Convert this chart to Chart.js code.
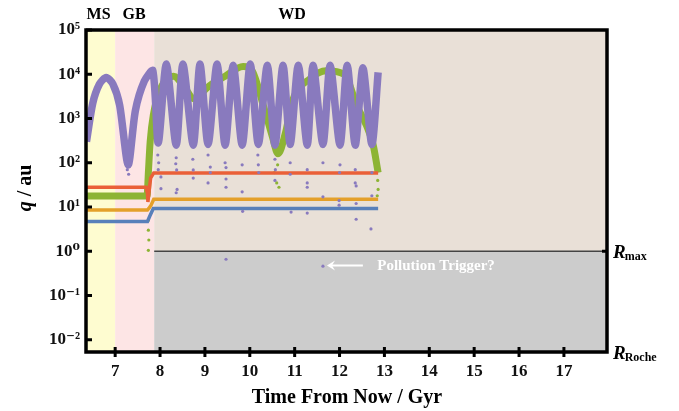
<!DOCTYPE html>
<html>
<head>
<meta charset="utf-8">
<script src="https://cdn.jsdelivr.net/npm/chart.js@4"></script>
<style>
  html, body { margin: 0; padding: 0; background: #fff; }
  #wrap { width: 679px; height: 411px; }
</style>
</head>
<body>
<div id="wrap"><canvas id="chart-1"></canvas></div>
<script>
// evolutionary phases, Gyr from now
const phaseEdges = [6.35, 7.0, 7.87, 17.96];
const phaseNames = ['MS', 'GB', 'WD'];
const phaseLabelT = [6.63, 7.42, 10.94];

const xTicks = [7, 8, 9, 10, 11, 12, 13, 14, 15, 16, 17];
const yTicks = [0.01, 0.1, 1, 10, 100, 1000, 10000, 100000];
const yTickLabels = ['10⁻²', '10⁻¹', '10⁰', '10¹', '10²', '10³', '10⁴', '10⁵'];

const rMax = 1;
const rRoche = 0.0053;

// outer body pericentre (dense oscillating band)
const purpleT = [6.36, 6.5, 6.65, 6.8, 6.95, 7.1, 7.29, 7.45, 7.65, 7.84, 7.96, 8.14, 8.36, 8.51, 8.74, 8.89,
  9.07, 9.27, 9.45, 9.63, 9.83, 10.01, 10.19, 10.39, 10.56, 10.74, 10.9, 11.08, 11.28, 11.41, 11.63, 11.79,
  12.01, 12.17, 12.35, 12.52, 12.72, 12.86];
const purpleQ = [300, 2200, 6000, 8500, 6000, 2000, 90, 1500, 7000, 12000, 280, 17000, 250, 17000, 250, 17000,
  260, 17000, 250, 16000, 250, 17000, 260, 16000, 250, 16000, 260, 16000, 250, 16000, 260, 16000,
  250, 16000, 250, 14000, 260, 11000];
// scattered low pericentre passages
const purpleDotT = [7.27, 7.30, 7.31, 7.95, 7.97, 7.96, 8.02, 8.02, 8.35, 8.37, 8.38, 8.36, 8.36, 8.74, 8.73, 8.74,
  9.07, 9.12, 9.12, 9.07, 9.45, 9.47, 9.47, 9.47, 9.47, 9.83, 9.83, 9.84, 10.18, 10.2, 10.19, 10.56, 10.57,
  10.56, 10.9, 10.92, 10.9, 11.28, 11.28, 11.28, 11.28, 11.63, 11.63, 11.99, 11.99, 12.0, 12.01, 12.35, 12.37,
  12.37, 12.37, 12.35, 12.70, 12.72, 12.72, 11.63];
const purpleDotQ = [70, 55, 90, 150, 100, 70, 48, 26, 95, 69, 25, 21, 130, 69, 120, 45,
  150, 80, 60, 35, 100, 78, 43, 28, 0.66, 90, 22, 8, 150, 60, 90, 120, 70,
  40, 100, 7.7, 55, 35, 28, 7.3, 70, 100, 17, 14, 11, 60, 90, 35, 30,
  12, 5.3, 70, 3.2, 18, 60, 0.46];

const greenT = [6.35, 7.71, 7.74, 7.78, 7.85, 8.02, 8.3, 8.55, 8.75, 9.1, 9.45, 9.85, 10.05, 10.3, 10.5, 10.63,
  10.8, 10.95, 11.35, 11.7, 12.1, 12.4, 12.6, 12.75, 12.86];
const greenQ = [17.8, 17.8, 60, 300, 1200, 5000, 9000, 5000, 2800, 5500, 9000, 15000, 12000, 2000, 400, 160,
  500, 2500, 8000, 12000, 10000, 1800, 700, 250, 60];
const greenDotT = [7.74, 7.74, 7.75, 7.74, 10.55, 10.6, 10.65, 10.62, 12.85, 12.86, 12.84, 12.83];
const greenDotQ = [5, 3, 1.8, 1.05, 60, 35, 28, 90, 40, 25, 18, 100];

const orangeT = [6.35, 7.69, 7.72, 7.73, 7.76, 7.79, 7.86, 12.86];
const orangeQ = [28, 28, 20, 13, 25, 45, 59, 59];
const yellowT = [6.35, 7.72, 7.75, 7.8, 7.86, 12.86];
const yellowQ = [8.6, 8.6, 9.3, 11, 15, 15];
const blueT = [6.35, 7.72, 7.77, 7.85, 12.86];
const blueQ = [4.7, 4.7, 6.2, 9.3, 9.3];

const triggerT = [11.72, 12.52, 12.84];
const triggerQ = 0.48;

const pts = (t, q) => t.map((v, i) => ({ x: v, y: q[i] }));

const serif = '"Liberation Serif", "DejaVu Serif", serif';

const backdrop = {
  id: 'backdrop',
  beforeDatasetsDraw(chart) {
    const { ctx, chartArea: a, scales: { x, y } } = chart;
    const yr = y.getPixelForValue(rMax);
    ctx.save();
    ctx.fillStyle = '#fefcd0';
    ctx.fillRect(x.getPixelForValue(phaseEdges[0]), a.top, x.getPixelForValue(phaseEdges[1]) - a.left, a.height);
    ctx.fillStyle = '#fde5e5';
    ctx.fillRect(x.getPixelForValue(phaseEdges[1]), a.top,
      x.getPixelForValue(phaseEdges[2]) - x.getPixelForValue(phaseEdges[1]), a.height);
    const wd = x.getPixelForValue(phaseEdges[2]);
    ctx.fillStyle = '#e9e0d7';
    ctx.fillRect(wd, a.top, a.right - wd, yr - a.top);
    ctx.fillStyle = '#cccccc';
    ctx.fillRect(wd, yr, a.right - wd, a.bottom - yr);
    ctx.strokeStyle = '#444';
    ctx.lineWidth = 1.5;
    ctx.beginPath();
    ctx.moveTo(wd, yr);
    ctx.lineTo(a.right, yr);
    ctx.stroke();

    // pollution trigger note
    const ty = y.getPixelForValue(triggerQ);
    const x0 = x.getPixelForValue(triggerT[0]);
    const x1 = x.getPixelForValue(triggerT[1]);
    ctx.strokeStyle = '#fff';
    ctx.fillStyle = '#fff';
    ctx.lineWidth = 2;
    ctx.beginPath();
    ctx.moveTo(x0 + 4, ty);
    ctx.lineTo(x1, ty);
    ctx.stroke();
    ctx.beginPath();
    ctx.moveTo(x0, ty);
    ctx.lineTo(x0 + 8, ty - 5);
    ctx.lineTo(x0 + 5, ty);
    ctx.lineTo(x0 + 8, ty + 5);
    ctx.closePath();
    ctx.fill();
    ctx.font = 'bold 15px ' + serif;
    ctx.textBaseline = 'alphabetic';
    ctx.fillText('Pollution Trigger?', x.getPixelForValue(triggerT[2]), ty + 5);
    ctx.restore();
  },
  afterDraw(chart) {
    const { ctx, chartArea: a, scales: { x, y } } = chart;
    ctx.save();
    ctx.strokeStyle = '#000';
    ctx.fillStyle = '#000';
    ctx.lineWidth = 3.5;
    ctx.strokeRect(a.left, a.top, a.width, a.height);
    ctx.lineWidth = 3;
    ctx.beginPath();
    yTicks.forEach((v) => {
      const py = y.getPixelForValue(v);
      ctx.moveTo(a.left, py);
      ctx.lineTo(a.left + 6, py);
    });
    xTicks.forEach((v) => {
      const px = x.getPixelForValue(v);
      ctx.moveTo(px, a.bottom - 5);
      ctx.lineTo(px, a.bottom + 5);
    });
    const yr = y.getPixelForValue(rMax);
    ctx.moveTo(a.right, yr);
    ctx.lineTo(a.right - 5, yr);
    ctx.stroke();

    // phase names
    ctx.font = 'bold 16px ' + serif;
    ctx.textAlign = 'center';
    ctx.textBaseline = 'alphabetic';
    phaseNames.forEach((n, i) => ctx.fillText(n, x.getPixelForValue(phaseLabelT[i]), 19));

    // R labels
    const rLabel = (sub, py) => {
      ctx.textAlign = 'left';
      ctx.font = 'italic bold 19px ' + serif;
      ctx.fillText('R', a.right + 6, py + 7);
      const w = ctx.measureText('R').width;
      ctx.font = 'bold 12px ' + serif;
      ctx.fillText(sub, a.right + 6 + w - 1, py + 9);
    };
    rLabel('max', yr);
    rLabel('Roche', y.getPixelForValue(rRoche));

    // axis titles
    ctx.textAlign = 'left';
    ctx.font = 'bold 20px ' + serif;
    const xt = 'Time From Now / Gyr';
    const xw = ctx.measureText(xt).width;
    ctx.fillText(xt, 347 - xw / 2, 403);

    ctx.translate(31, 188);
    ctx.rotate(-Math.PI / 2);
    ctx.font = 'italic bold 20px ' + serif;
    const qw = ctx.measureText('q').width;
    ctx.font = 'bold 20px ' + serif;
    const rw = ctx.measureText(' / au').width;
    ctx.font = 'italic bold 20px ' + serif;
    ctx.fillText('q', -(qw + rw) / 2, 0);
    ctx.font = 'bold 20px ' + serif;
    ctx.fillText(' / au', -(qw + rw) / 2 + qw, 0);
    ctx.restore();
  },
};

const initChart1 = () => {
  const data = {
    datasets: [
      {
        label: 'outer body',
        data: pts(purpleT, purpleQ),
        showLine: true,
        borderColor: 'rgb(137, 122, 190)',
        borderWidth: 7.5,
        borderJoinStyle: 'round',
        tension: 0.25,
        pointRadius: 0,
      },
      {
        label: 'outer body (low passages)',
        data: pts(purpleDotT, purpleDotQ),
        backgroundColor: 'rgb(137, 122, 190)',
        borderWidth: 0,
        pointRadius: 1.6,
      },
      {
        label: 'planet 60 au',
        data: pts(orangeT, orangeQ),
        showLine: true,
        borderColor: 'rgb(234, 96, 56)',
        borderWidth: 3.5,
        pointRadius: 0,
      },
      {
        label: 'planet 15 au',
        data: pts(yellowT, yellowQ),
        showLine: true,
        borderColor: 'rgb(228, 160, 42)',
        borderWidth: 3.5,
        pointRadius: 0,
      },
      {
        label: 'planet 9 au',
        data: pts(blueT, blueQ),
        showLine: true,
        borderColor: 'rgb(88, 128, 186)',
        borderWidth: 3.5,
        pointRadius: 0,
      },
      {
        label: 'planet 18 au',
        data: pts(greenT, greenQ),
        showLine: true,
        borderColor: 'rgb(141, 180, 52)',
        borderWidth: 7,
        cubicInterpolationMode: 'monotone',
        pointRadius: 0,
      },
      {
        label: 'planet 18 au (scatter)',
        data: pts(greenDotT, greenDotQ),
        backgroundColor: 'rgb(141, 180, 52)',
        borderWidth: 0,
        pointRadius: 1.6,
      },
    ],
  };

  const config = {
    type: 'scatter',
    data: data,
    options: {
      responsive: true,
      maintainAspectRatio: false,
      animation: false,
      layout: { padding: { left: 0, right: 72, top: 30, bottom: 0 } },
      plugins: {
        legend: { display: false },
        tooltip: { enabled: false },
      },
      scales: {
        x: {
          type: 'linear',
          min: phaseEdges[0],
          max: phaseEdges[3],
          grid: { display: false, drawTicks: false },
          border: { display: false },
          afterBuildTicks: (s) => { s.ticks = xTicks.map((v) => ({ value: v })); },
          afterFit: (s) => { s.height = 59; },
          ticks: {
            padding: 9,
            color: '#111',
            maxRotation: 0,
            autoSkip: false,
            font: { family: serif, size: 17, weight: 'bold' },
            callback: (v) => String(v),
          },
        },
        y: {
          type: 'logarithmic',
          min: rRoche,
          max: 100000,
          grid: { display: false, drawTicks: false },
          border: { display: false },
          afterBuildTicks: (s) => { s.ticks = yTicks.map((v) => ({ value: v })); },
          afterFit: (s) => { s.width = 86; },
          ticks: {
            padding: 6,
            color: '#111',
            autoSkip: false,
            font: { family: serif, size: 17, weight: 'bold' },
            callback: (v) => yTickLabels[yTicks.indexOf(v)],
          },
        },
      },
    },
    plugins: [backdrop],
  };

  return new Chart(document.getElementById('chart-1'), config);
};

const chart1 = initChart1();
</script>
</body>
</html>
